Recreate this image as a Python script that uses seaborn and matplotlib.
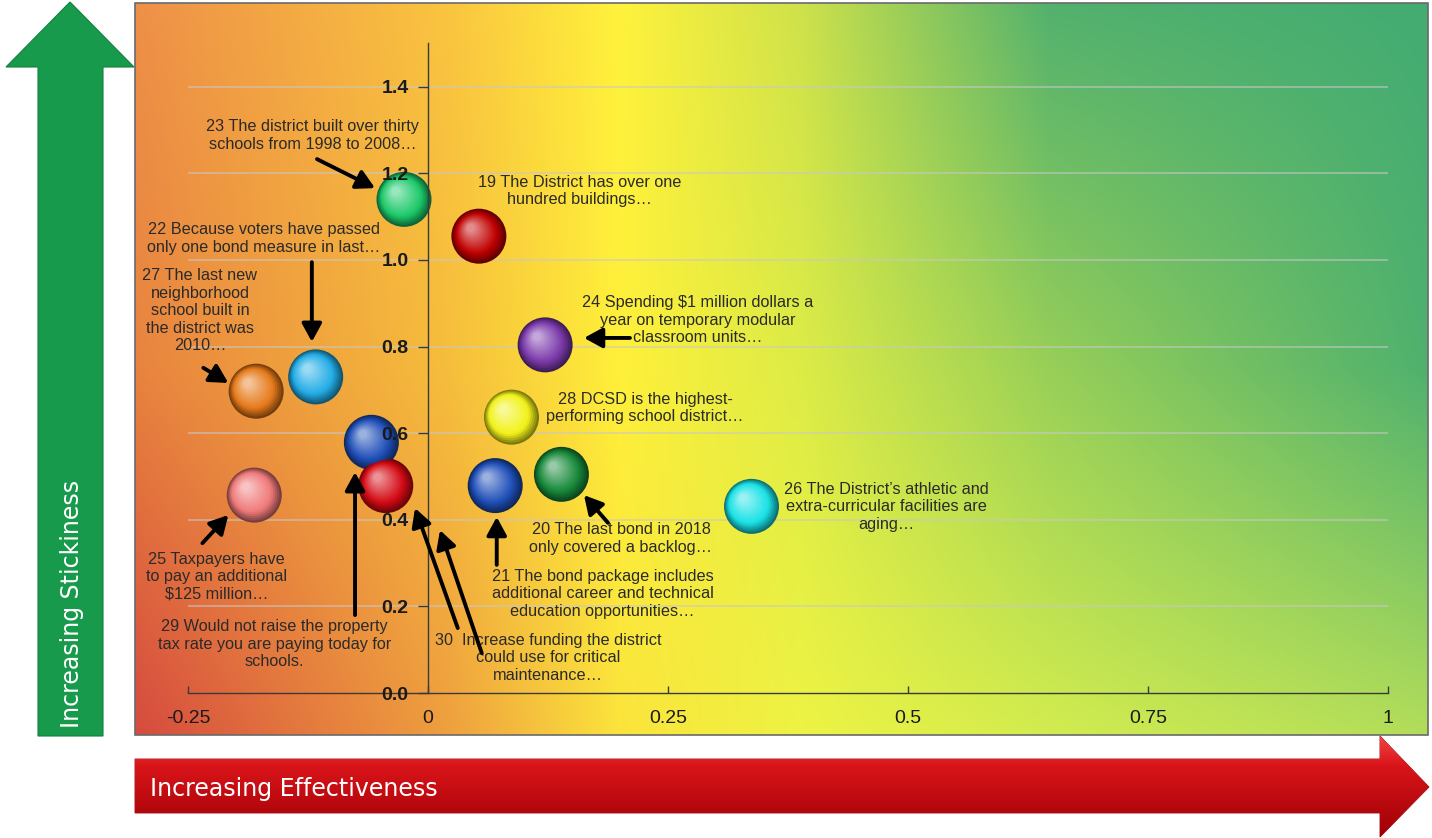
import numpy as np
import pandas as pd
import matplotlib
matplotlib.use("Agg")
import matplotlib.pyplot as plt
import matplotlib.transforms as mtransforms
from matplotlib.patches import Polygon, Rectangle
from matplotlib.colors import to_rgb
import seaborn as sns

# ---- data ----
item_ids = [19, 20, 21, 22, 23, 24, 25, 26, 27, 28, 29, 30]
effectiveness = [0.053, 0.139, 0.070, -0.117, -0.025, 0.122, -0.181, 0.337, -0.179, 0.087, -0.059, -0.044]
stickiness = [1.055, 0.505, 0.479, 0.730, 1.140, 0.804, 0.457, 0.431, 0.697, 0.637, 0.579, 0.479]

item_text = [
    "19 The District has over one\nhundred buildings…",
    "20 The last bond in 2018\nonly covered a backlog…",
    "21 The bond package includes\nadditional career and technical\neducation opportunities…",
    "22 Because voters have passed\nonly one bond measure in last…",
    "23 The district built over thirty\nschools from 1998 to 2008…",
    "24 Spending \\$1 million dollars a\nyear on temporary modular\nclassroom units…",
    "25 Taxpayers have\nto pay an additional\n\\$125 million…",
    "26 The District’s athletic and\nextra-curricular facilities are\naging…",
    "27 The last new\nneighborhood\nschool built in\nthe district was\n2010…",
    "28 DCSD is the highest-\nperforming school district…",
    "29 Would not raise the property\ntax rate you are paying today for\nschools.",
    "30  Increase funding the district\ncould use for critical\nmaintenance…",
]

y_ticks = [0.0, 0.2, 0.4, 0.6, 0.8, 1.0, 1.2, 1.4]
y_tick_labels = ["0.0", "0.2", "0.4", "0.6", "0.8", "1.0", "1.2", "1.4"]
x_ticks = [-0.25, 0, 0.25, 0.5, 0.75, 1]
x_tick_labels = ["-0.25", "0", "0.25", "0.5", "0.75", "1"]

# ---- layout / style ----
bubble_colors = ["#c00000", "#17893a", "#1f4fb8", "#22ade6", "#1cc96a", "#7b3aaa",
                 "#f07a7a", "#19e2e6", "#e67a1a", "#f2f21a", "#1f4fb8", "#d40a14"]

label_pos = [(0.158, 1.160), (0.201, 0.357), (0.182, 0.229), (-0.171, 1.050),
             (-0.120, 1.2875), (0.281, 0.861), (-0.220, 0.268), (0.4775, 0.430),
             (-0.2375, 0.883), (0.226, 0.658), (-0.160, 0.113), (0.125, 0.081)]

arrows = [  # (start, end) in data units
    ((-0.1156, 1.233), (-0.0552, 1.166)),
    ((-0.121, 0.995), (-0.121, 0.811)),
    ((-0.234, 0.751), (-0.208, 0.716)),
    ((-0.235, 0.346), (-0.208, 0.411)),
    ((-0.076, 0.180), (-0.076, 0.510)),
    ((0.031, 0.150), (-0.0135, 0.427)),
    ((0.056, 0.092), (0.0125, 0.376)),
    ((0.0716, 0.296), (0.0716, 0.4065)),
    ((0.1875, 0.393), (0.1625, 0.457)),
    ((0.2104, 0.820), (0.1625, 0.820)),
]

W, H = 1432, 838
BUBBLE_PT = 39.6  # diameter in points

sns.set_theme(style="white")
plt.rcParams["font.family"] = ["Liberation Sans", "DejaVu Sans"]


def mix(c, other, f):
    c = np.array(to_rgb(c))
    return tuple(c * (1 - f) + np.array(other) * f)


def bg_gradient(nx=600, ny=300):
    cols = [0, 0.244, 0.375, 0.514, 0.708, 1.0]
    rows = [0, 0.5, 1.0]
    ctl = [
        ["#ee9048", "#fac540", "#fff23c", "#cfe24a", "#52b16e", "#43ac72"],
        ["#e8833f", "#f6be3c", "#fff03a", "#ddec46", "#98cf58", "#4fb16e"],
        ["#d64b3f", "#efa03f", "#fbe43c", "#eef343", "#d2ec4f", "#b2dd5a"],
    ]
    ctl = np.array([[to_rgb(c) for c in r] for r in ctl])
    xs = np.linspace(0, 1, nx)
    ys = np.linspace(0, 1, ny)
    rowimg = np.stack([np.stack([np.interp(xs, cols, ctl[r, :, k]) for k in range(3)], -1)
                       for r in range(3)])
    img = np.empty((ny, nx, 3))
    for k in range(3):
        for i in range(nx):
            img[:, i, k] = np.interp(ys, rows, rowimg[:, i, k])
    return img


fig = plt.figure(figsize=(W / 100, H / 100), dpi=100)

# ---- decorative arrows (pixel coordinates) ----
deco = fig.add_axes([0, 0, 1, 1], zorder=0)
deco.set_xlim(0, W)
deco.set_ylim(H, 0)
deco.axis("off")

green = Polygon([(70, 2), (134, 67), (103, 67), (103, 736), (38, 736), (38, 67), (6, 67)],
                closed=True, facecolor="#189a4c", edgecolor="#12803f", lw=0.8)
deco.add_patch(green)
deco.text(72, 728, "Increasing Stickiness", rotation=90, color="white", ha="center",
          va="bottom", fontsize=17, family=["Liberation Sans Narrow", "DejaVu Sans"])

red_pts = [(135, 759), (1380, 759), (1380, 736), (1429, 787), (1380, 837), (1380, 813), (135, 813)]
red = Polygon(red_pts, closed=True, facecolor="none", edgecolor="#8f0000", lw=0.6)
deco.add_patch(red)
grad = np.linspace(0, 1, 100)[:, None]
red_img = np.stack([np.interp(grad, [0, 0.3, 1], [0.95, 0.85, 0.62]),
                    np.interp(grad, [0, 0.3, 1], [0.27, 0.08, 0.0]),
                    np.interp(grad, [0, 0.3, 1], [0.27, 0.10, 0.02])], -1)
red_img = np.repeat(red_img, 2, axis=1)
im = deco.imshow(red_img, extent=(135, 1430, 837, 736), origin="upper", aspect="auto", zorder=1)
im.set_clip_path(red)
deco.set_xlim(0, W)
deco.set_ylim(H, 0)
deco.text(150, 789, "Increasing Effectiveness", color="white", ha="left", va="center",
          fontsize=17, family=["Liberation Sans Narrow", "DejaVu Sans"], zorder=3)

# ---- main chart ----
x0 = (135 - 428) / 960
x1 = (1428 - 428) / 960
y0 = (693 - 735) / 433
y1 = (693 - 3) / 433
ax = fig.add_axes([135 / W, 1 - 735 / H, 1293 / W, 732 / H], zorder=1)
ax.set_axisbelow(False)
ax.imshow(bg_gradient(), extent=(x0, x1, y0, y1), origin="upper", aspect="auto", zorder=0)
ax.set_xlim(x0, x1)
ax.set_ylim(y0, y1)

ax.hlines(y_ticks[1:], x_ticks[0], x_ticks[-1], color="#c8c8c8", lw=1.2, alpha=0.65, zorder=1)

df = pd.DataFrame({"item": [str(i) for i in item_ids], "x": effectiveness, "y": stickiness})
dark = [mix(c, (0, 0, 0), 0.5) for c in bubble_colors]
sns.scatterplot(data=df, x="x", y="y", hue="item", palette=dark, s=BUBBLE_PT ** 2,
                linewidth=0, legend=False, ax=ax, zorder=2)

# layered circles to give a sphere look
n_layers = 16
for k in range(1, n_layers):
    t = k / (n_layers - 1)
    d = 1 - 0.85 * t
    off = 0.30 * t * BUBBLE_PT / 2
    if t < 0.3:
        cols = [mix(c, (0, 0, 0), 0.5 * (1 - t / 0.3)) for c in bubble_colors]
    else:
        cols = [mix(c, (1, 1, 1), 0.55 * (t - 0.3) / 0.7) for c in bubble_colors]
    tr = mtransforms.offset_copy(ax.transData, fig=fig, x=-off, y=off, units="points")
    ax.scatter(effectiveness, stickiness, s=(BUBBLE_PT * d) ** 2, c=cols, linewidths=0,
               transform=tr, zorder=2)

for txt, (tx, ty) in zip(item_text, label_pos):
    ax.text(tx, ty, txt, ha="center", va="center", multialignment="center",
            fontsize=11.7, color="#2a2a2a", zorder=4)

for start, end in arrows:
    ax.annotate("", xy=end, xytext=start,
                arrowprops=dict(arrowstyle="-|>,head_length=0.55,head_width=0.3", color="black",
                                lw=2.8, shrinkA=0, shrinkB=0, mutation_scale=20),
                zorder=5)

# axes through the origin
for side in ["top", "right"]:
    ax.spines[side].set_visible(False)
ax.spines["left"].set_position(("data", 0))
ax.spines["left"].set_bounds(0, 1.5)
ax.spines["bottom"].set_position(("data", 0))
ax.spines["bottom"].set_bounds(x_ticks[0], x_ticks[-1])
for side in ["left", "bottom"]:
    ax.spines[side].set_color("#3a3a3a")
    ax.spines[side].set_linewidth(1.0)

ax.set_yticks(y_ticks)
ax.set_yticklabels(y_tick_labels, fontweight="bold")
ax.set_xticks(x_ticks)
ax.set_xticklabels(x_tick_labels)
ax.tick_params(axis="y", direction="out", length=7, width=1, color="#3a3a3a", pad=7,
               labelsize=14, labelcolor="#1a1a1a", left=True)
ax.tick_params(axis="x", direction="in", length=5, width=1, color="#3a3a3a", pad=12,
               labelsize=14, labelcolor="#1a1a1a", bottom=True)
ax.set_xlabel("")
ax.set_ylabel("")

ax.add_patch(Rectangle((0, 0), 1, 1, transform=ax.transAxes, fill=False,
                       edgecolor="#6a6a6a", lw=1.2, clip_on=False, zorder=6))

fig.savefig("out.png", dpi=100)
